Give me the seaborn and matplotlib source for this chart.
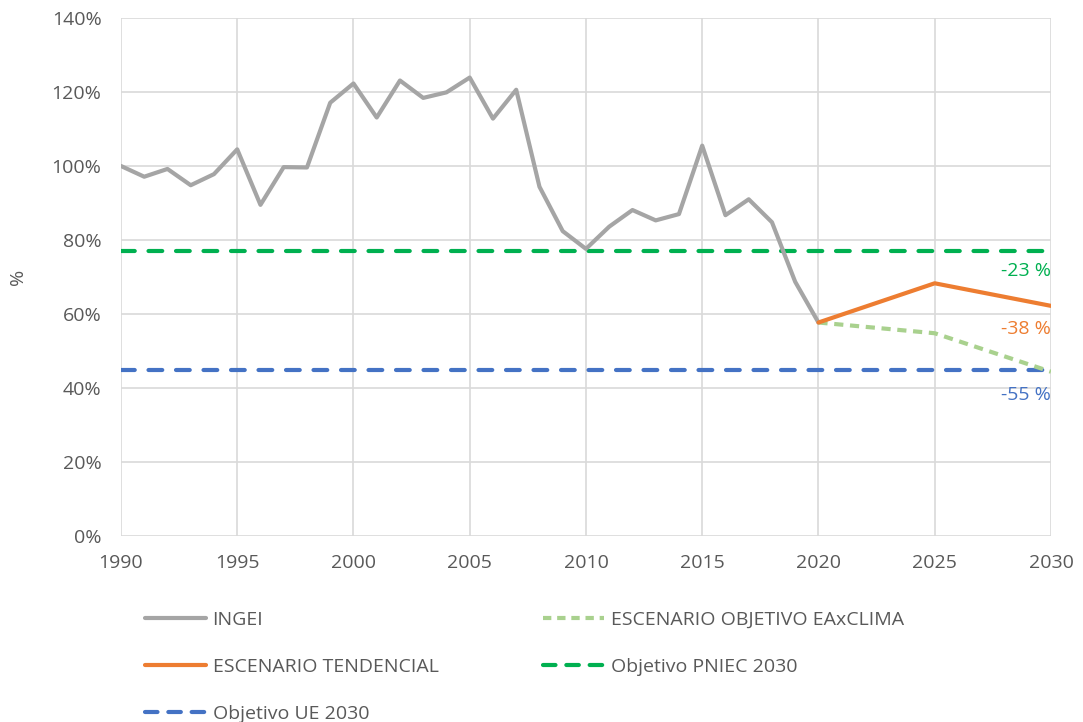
import pandas as pd
import matplotlib.pyplot as plt
import seaborn as sns
from matplotlib.ticker import PercentFormatter
from matplotlib.lines import Line2D

# data
years_ingei = list(range(1990, 2021))
ingei = [100.0, 97.1, 99.2, 94.8, 97.8, 104.5, 89.5, 99.7, 99.6, 117.1,
         122.3, 113.1, 123.1, 118.4, 119.9, 123.9, 112.8, 120.6, 94.4, 82.4,
         77.6, 83.6, 88.1, 85.3, 87.0, 105.5, 86.7, 91.0, 84.8, 68.7, 57.7]
years_scen = [2020, 2025, 2030]
tendencial = [57.7, 68.3, 62.2]
eaxclima = [57.7, 54.8, 44.4]
pniec_target = 77
ue_target = 45

GRAY = '#A5A5A5'
ORANGE = '#ED7D31'
LGREEN = '#A9D18E'
GREEN = '#00B050'
BLUE = '#4472C4'
TXT = '#595959'
FS = 14

sns.set_style('white')
plt.rcParams['font.family'] = ['Open Sans', 'DejaVu Sans']

fig = plt.figure(figsize=(10.83, 7.22), dpi=100)
ax = fig.add_axes([0.1117, 0.2576, 0.8587, 0.7175])

df_ingei = pd.DataFrame({'year': years_ingei, 'val': ingei})
df_scen = pd.DataFrame({'year': years_scen, 'tend': tendencial, 'eax': eaxclima})

# target lines
ax.plot([1990, 2030], [pniec_target, pniec_target], color=GREEN, lw=3,
        dashes=(3.3, 3.3), dash_capstyle='round', zorder=3)
ax.plot([1990, 2030], [ue_target, ue_target], color=BLUE, lw=3,
        dashes=(3.3, 3.3), dash_capstyle='round', zorder=3)

sns.lineplot(data=df_ingei, x='year', y='val', color=GRAY, lw=3, ax=ax, zorder=4)
sns.lineplot(data=df_scen, x='year', y='eax', color=LGREEN, lw=3, ax=ax, zorder=4,
             dashes=False, linestyle=(0, (2.2, 1.6)))
sns.lineplot(data=df_scen, x='year', y='tend', color=ORANGE, lw=3, ax=ax, zorder=5)

# annotations
ax.text(2030, 71.5, '-23 %', color=GREEN, fontsize=FS, ha='right', va='center')
ax.text(2030, 56, '-38 %', color=ORANGE, fontsize=FS, ha='right', va='center')
ax.text(2030, 38, '-55 %', color=BLUE, fontsize=FS, ha='right', va='center')

ax.set_xlim(1990, 2030)
ax.set_ylim(0, 140)
ax.set_xticks(range(1990, 2031, 5))
ax.set_yticks(range(0, 141, 20))
ax.yaxis.set_major_formatter(PercentFormatter(decimals=0))
ax.grid(True, color='#D9D9D9', lw=1.2)
ax.set_axisbelow(True)
for s in ax.spines.values():
    s.set_visible(False)
ax.tick_params(axis='both', length=0, labelsize=FS, colors=TXT)
ax.tick_params(axis='x', pad=13)
ax.tick_params(axis='y', pad=14)
ax.set_xlabel('')
ax.set_ylabel('%', fontsize=FS, color=TXT, labelpad=18)

handles = [
    Line2D([], [], color=GRAY, lw=3),
    Line2D([], [], color=ORANGE, lw=3),
    Line2D([], [], color=BLUE, lw=3, dashes=(3.0, 2.6), dash_capstyle='round'),
    Line2D([], [], color=LGREEN, lw=3, linestyle=(0, (2.0, 1.4))),
    Line2D([], [], color=GREEN, lw=3, dashes=(3.0, 2.6), dash_capstyle='round'),
]
labels = ['INGEI', 'ESCENARIO TENDENCIAL', 'Objetivo UE 2030',
          'ESCENARIO OBJETIVO EAxCLIMA', 'Objetivo PNIEC 2030']
leg = fig.legend(handles, labels, ncol=2, loc='upper left',
                 bbox_to_anchor=(0.127, 0.165), frameon=False, fontsize=FS,
                 handlelength=3.1, handletextpad=0.36, columnspacing=5.4,
                 labelspacing=1.5, labelcolor=TXT, borderaxespad=0)

fig.savefig('out.png', dpi=100)
